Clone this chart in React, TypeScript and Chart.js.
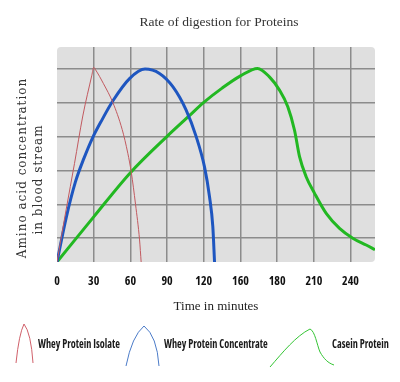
import React, { useEffect, useRef } from 'react';
import { Chart, registerables } from 'chart.js';

Chart.register(...registerables);

// ---- Data ----
const chartTitle = 'Rate of digestion for Proteins';
const xAxisTitle = 'Time in minutes';
const yAxisTitleLines = ['Amino acid concentration', 'in blood stream'];

const xTickValues = [0, 30, 60, 90, 120, 150, 180, 210, 240];
const xTickLabels = ['0', '30', '60', '90', '120', '160', '180', '210', '240'];
const yGridValues = [1, 2, 3, 4, 5, 6];

const seriesLabels = ['Whey Protein Isolate', 'Whey Protein Concentrate', 'Casein Protein'];

const isolateX = [0, 7.5, 14.3, 21.1, 28.5, 30, 31.5, 38, 45.6, 53.3, 57.9, 60.7, 64.2, 67.5, 68.8];
const isolateY = [0.3, 1.85, 3.2, 4.6, 5.8, 6.03, 5.96, 5.55, 5.0, 4.2, 3.5, 2.95, 2.0, 0.95, 0.3];

const concentrateX = [0, 7.5, 15, 22, 29, 37, 45.6, 59.3, 72, 83.8, 94.7, 105.6, 113.8, 120.6, 124.7, 127.4, 128.8];
const concentrateY = [0.3, 1.6, 2.65, 3.35, 3.95, 4.5, 5.04, 5.7, 5.98, 5.85, 5.46, 4.77, 3.99, 3.1, 2.22, 1.34, 0.3];

const caseinX = [0, 30, 60, 90, 108, 120, 135, 150, 164, 173.7, 181.9, 188.7, 194.2, 198.3, 203.7, 210.6, 220.1, 231, 241.8, 252.8, 260];
const caseinY = [0.3, 1.63, 2.93, 4.0, 4.6, 5.0, 5.42, 5.78, 6.0, 5.75, 5.36, 4.87, 4.18, 3.4, 2.81, 2.32, 1.73, 1.29, 1.0, 0.8, 0.66];

const lineColors = ['#c25a60', '#1e56c0', '#22b822'];
const legendColors = ['#d0606a', '#4b7bc8', '#33c433'];

const toPoints = (xs: number[], ys: number[]) => xs.map((x, i) => ({ x, y: ys[i] }));

const condensedFamily = "'Open Sans', 'Roboto', sans-serif";
const serif = "'Liberation Serif', 'DejaVu Serif', serif";

const bgPlugin = {
  id: 'plotBg',
  afterLayout(chart: any) {
    // centre the chart title over the plot area
    const t = chart.titleBlock;
    if (t) {
      t.left = chart.chartArea.left + 3;
      t.right = chart.chartArea.right + 3;
    }
  },
  beforeDraw(chart: any) {
    const { ctx, chartArea: a } = chart;
    ctx.save();
    ctx.fillStyle = '#dfdfdf';
    ctx.beginPath();
    (ctx as any).roundRect(a.left, a.top, a.right - a.left, a.bottom - a.top, 4);
    ctx.fill();
    ctx.restore();
  },
};

const yTitlePlugin = {
  id: 'yTitle',
  afterDraw(chart: any) {
    const { ctx, chartArea: a } = chart;
    ctx.save();
    ctx.font = "12px 'DejaVu Serif', serif";
    (ctx as any).letterSpacing = '1px';
    ctx.fillStyle = '#333';
    ctx.textAlign = 'center';
    ctx.textBaseline = 'middle';
    const pos = [
      { x: a.left - 34, y: 168 },
      { x: a.left - 18.5, y: 179.5 },
    ];
    yAxisTitleLines.forEach((t, i) => {
      ctx.save();
      ctx.translate(pos[i].x, pos[i].y);
      ctx.rotate(-Math.PI / 2);
      ctx.fillText(t, 0, 0);
      ctx.restore();
    });
    ctx.restore();
  },
};

const legendPlugin = {
  id: 'curveLegend',
  afterDraw(chart: any) {
    const { ctx } = chart;
    ctx.save();
    ctx.lineWidth = 1;
    // red icon
    ctx.strokeStyle = legendColors[0];
    ctx.beginPath();
    ctx.moveTo(16, 363);
    ctx.quadraticCurveTo(19, 334, 24, 324);
    ctx.quadraticCurveTo(31, 333, 33, 363);
    ctx.stroke();
    // blue icon
    ctx.strokeStyle = legendColors[1];
    ctx.beginPath();
    ctx.moveTo(126, 366);
    ctx.quadraticCurveTo(132, 336, 144, 326);
    ctx.quadraticCurveTo(157, 336, 159, 366);
    ctx.stroke();
    // green icon
    ctx.strokeStyle = legendColors[2];
    ctx.beginPath();
    ctx.moveTo(270, 367);
    ctx.bezierCurveTo(283, 352, 296, 336, 310, 329);
    ctx.bezierCurveTo(315, 331, 317, 345, 320, 352);
    ctx.bezierCurveTo(324, 359, 328, 363, 334, 365);
    ctx.stroke();
    // labels
    ctx.fillStyle = '#1a1a1a';
    ctx.font = `bold condensed 11.5px ${condensedFamily}`;
    ctx.textAlign = 'left';
    ctx.textBaseline = 'middle';
    const labels = chart.data.datasets.map((d: any) => d.label as string);
    const sx = 82 / ctx.measureText(labels[0]).width;
    const xs = [38, 164, 332];
    labels.forEach((t: string, i: number) => {
      ctx.save();
      ctx.translate(xs[i], 345);
      ctx.scale(Math.min(1, sx), 1);
      ctx.fillText(t, 0, 0);
      ctx.restore();
    });
    ctx.restore();
  },
};

export default function App() {
  const ref = useRef<HTMLCanvasElement>(null);
  useEffect(() => {
    const canvas = ref.current!;
    const chart = new Chart(canvas, {
      type: 'line',
      data: {
        datasets: [
          {
            label: seriesLabels[0],
            data: toPoints(isolateX, isolateY),
            borderColor: lineColors[0],
            borderWidth: 1,
            pointRadius: 0,
            cubicInterpolationMode: 'monotone',
            fill: false,
          },
          {
            label: seriesLabels[1],
            data: toPoints(concentrateX, concentrateY),
            borderColor: lineColors[1],
            borderWidth: 3,
            pointRadius: 0,
            cubicInterpolationMode: 'monotone',
            fill: false,
          },
          {
            label: seriesLabels[2],
            data: toPoints(caseinX, caseinY),
            borderColor: lineColors[2],
            borderWidth: 3,
            pointRadius: 0,
            cubicInterpolationMode: 'monotone',
            fill: false,
          },
        ],
      },
      options: {
        animation: false,
        responsive: false,
        events: [],
        layout: { padding: { left: 0, right: 25, top: 0, bottom: 60 } },
        plugins: {
          legend: { display: false },
          tooltip: { enabled: false },
          title: {
            display: true,
            text: chartTitle,
            color: '#333',
            font: { family: serif, size: 13.5, weight: 'normal' },
            padding: { top: 14, bottom: 16.8 },
          },
        },
        scales: {
          x: {
            type: 'linear',
            min: 0,
            max: 260,
            afterBuildTicks: (s: any) => {
              s.ticks = xTickValues.map((v) => ({ value: v }));
            },
            afterFit: (s: any) => {
              s.height = 60;
            },
            ticks: {
              autoSkip: false,
              maxRotation: 0,
              padding: 12,
              color: '#111',
              font: { family: condensedFamily, size: 12, weight: 'bold condensed' },
              callback: (_v: any, i: number) => xTickLabels[i],
            },
            grid: {
              drawTicks: false,
              lineWidth: 1.5,
              color: (c: any) => (c.tick && c.tick.value === 0 ? 'rgba(0,0,0,0)' : '#8c8c8c'),
            },
            border: { display: false },
            title: {
              display: true,
              text: xAxisTitle,
              color: '#222',
              font: { family: serif, size: 13 },
              padding: { top: 0, bottom: 8 },
            },
          },
          y: {
            type: 'linear',
            min: 0.3,
            max: 6.63,
            afterBuildTicks: (s: any) => {
              s.ticks = yGridValues.map((v) => ({ value: v }));
            },
            afterFit: (s: any) => {
              s.width = 57;
            },
            ticks: { display: false },
            grid: { drawTicks: false, lineWidth: 1.5, color: '#8c8c8c' },
            border: { display: false },
          },
        },
      } as any,
      plugins: [bgPlugin, yTitlePlugin, legendPlugin],
    });
    return () => chart.destroy();
  }, []);
  return (
    <canvas
      ref={ref}
      width={400}
      height={382}
      style={{ position: 'absolute', left: 0, top: 0, width: 400, height: 382, display: 'block' }}
    />
  );
}
